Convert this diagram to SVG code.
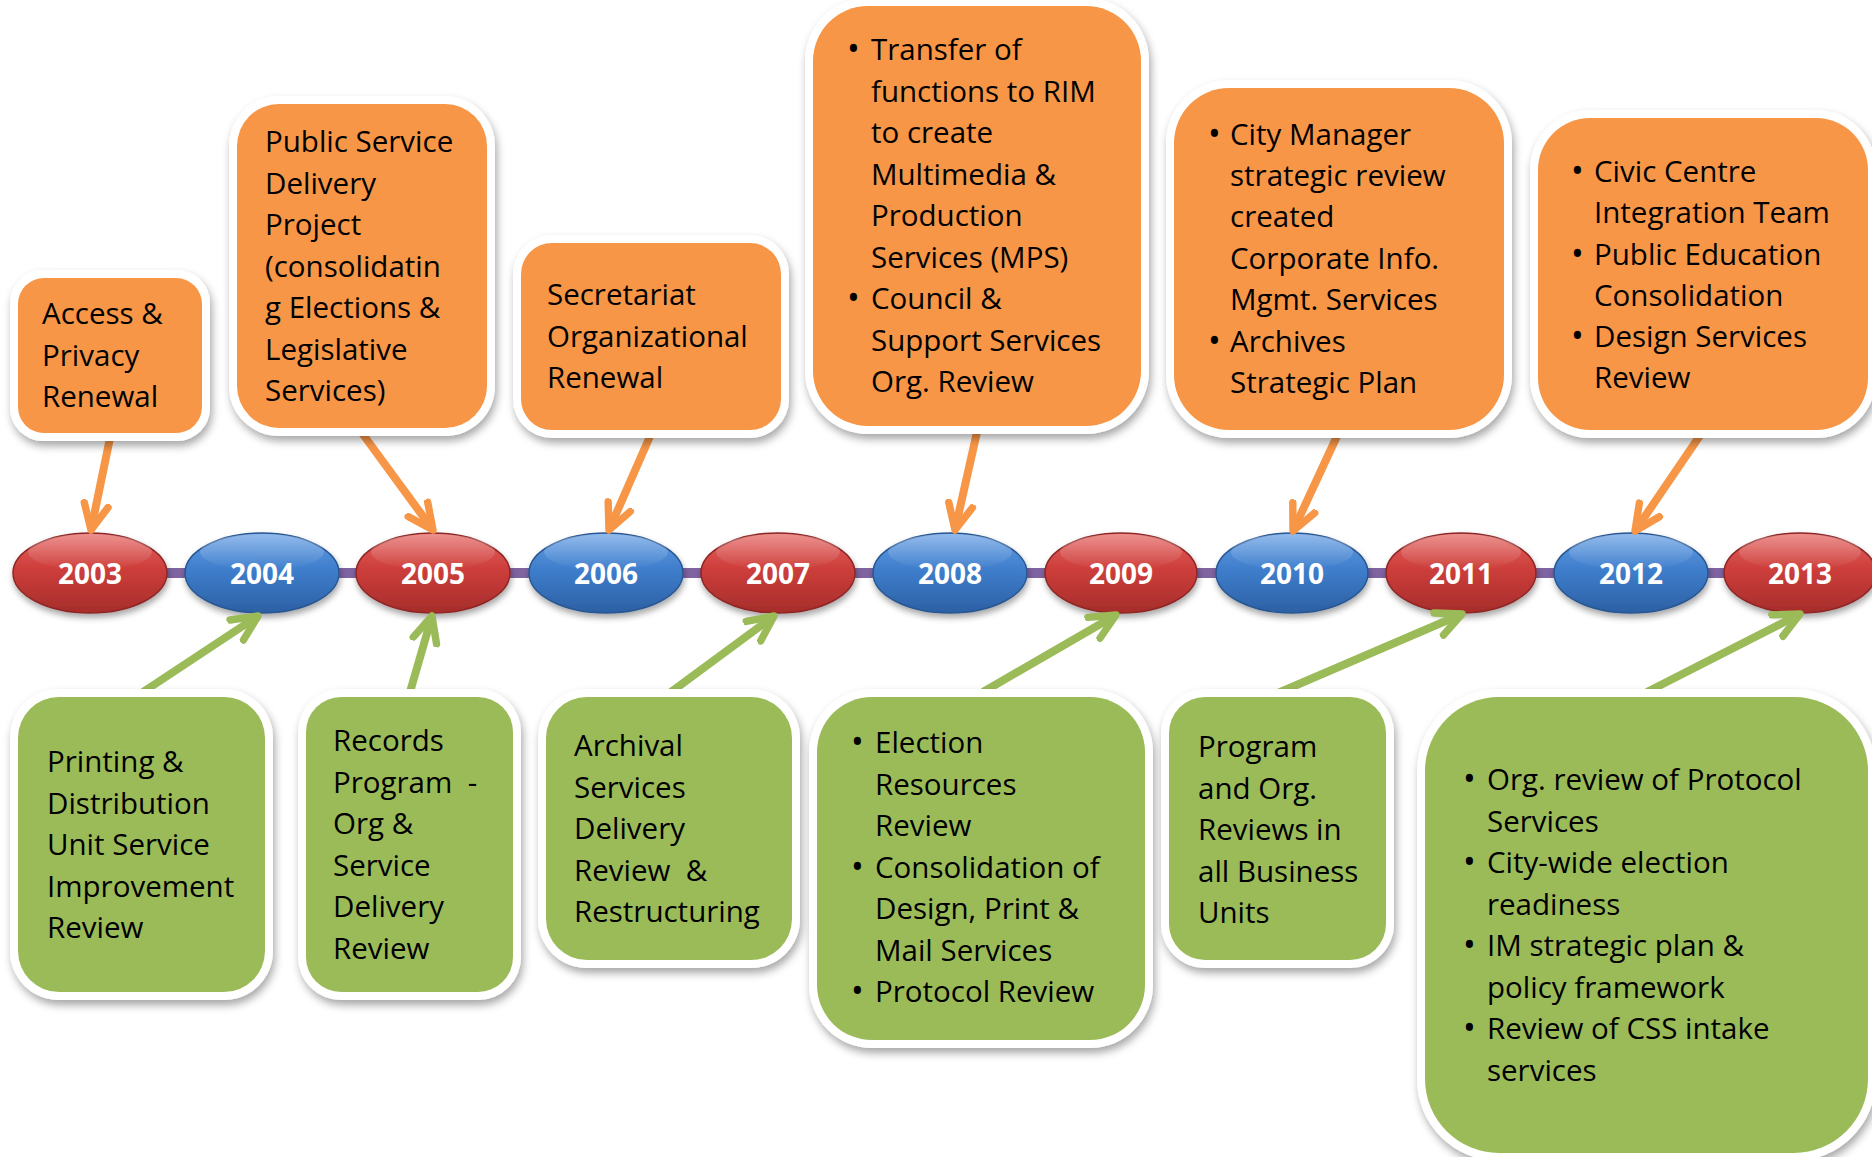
<svg xmlns="http://www.w3.org/2000/svg" width="1872" height="1157" viewBox="0 0 1872 1157">
  <defs>
    <filter id="boxShadow" x="-10%" y="-10%" width="125%" height="130%">
      <feDropShadow dx="2" dy="5" stdDeviation="4" flood-color="#000" flood-opacity="0.35"/>
    </filter>
    <filter id="ovalShadow" x="-10%" y="-20%" width="125%" height="150%">
      <feDropShadow dx="1" dy="4" stdDeviation="3" flood-color="#000" flood-opacity="0.35"/>
    </filter>
    <linearGradient id="redFill" x1="0" y1="0" x2="0" y2="1">
      <stop offset="0" stop-color="#E4625E"/>
      <stop offset="0.45" stop-color="#CD3E3B"/>
      <stop offset="1" stop-color="#A62D2B"/>
    </linearGradient>
    <linearGradient id="blueFill" x1="0" y1="0" x2="0" y2="1">
      <stop offset="0" stop-color="#639DE4"/>
      <stop offset="0.45" stop-color="#3F7ECC"/>
      <stop offset="1" stop-color="#2C60A4"/>
    </linearGradient>
    <linearGradient id="gloss" x1="0" y1="0" x2="0" y2="1">
      <stop offset="0" stop-color="#fff" stop-opacity="0.3"/>
      <stop offset="1" stop-color="#fff" stop-opacity="0"/>
    </linearGradient>
    <marker id="headOrange" viewBox="0 0 10 10" refX="8.6" refY="5" markerWidth="4.2" markerHeight="4.2" markerUnits="strokeWidth" orient="auto">
      <path d="M1,1.4 L8.6,5 L1,8.6" fill="none" stroke="#F79646" stroke-width="2.2" stroke-linecap="round" stroke-linejoin="round"/>
    </marker>
    <marker id="headGreen" viewBox="0 0 10 10" refX="8.6" refY="5" markerWidth="4.2" markerHeight="4.2" markerUnits="strokeWidth" orient="auto">
      <path d="M1,1.4 L8.6,5 L1,8.6" fill="none" stroke="#9BBB59" stroke-width="2.2" stroke-linecap="round" stroke-linejoin="round"/>
    </marker>
  </defs>
  <style>
    .frame { fill: #ffffff; filter: url(#boxShadow); }
    .orange { fill: #F79646; }
    .green { fill: #9BBB59; }
    .label { font-family: "Open Sans", "Liberation Sans", sans-serif; font-size: 29.5px; fill: #000000; }
    .bullet { font-family: "Open Sans", "Liberation Sans", sans-serif; font-size: 34px; fill: #000000; }
    .year { font-family: "Open Sans", "Liberation Sans", sans-serif; font-weight: 700; font-size: 28px; fill: #ffffff; text-anchor: middle; }
    .oval-red { fill: url(#redFill); stroke: #8E2725; stroke-width: 1.5; filter: url(#ovalShadow); }
    .oval-blue { fill: url(#blueFill); stroke: #295792; stroke-width: 1.5; filter: url(#ovalShadow); }
    .shine { fill: url(#gloss); }
    .link-o { stroke: #F79646; stroke-width: 8; fill: none; marker-end: url(#headOrange); }
    .link-g { stroke: #9BBB59; stroke-width: 8; fill: none; marker-end: url(#headGreen); }
    .axis { stroke: #8064A2; stroke-width: 10; }
  </style>

  <rect width="1872" height="1157" fill="#ffffff"/>

  <!-- timeline axis -->
  <line class="axis" x1="90" y1="573" x2="1800" y2="573"/>

  <!-- year markers -->
  <g id="y2003"><ellipse class="oval-red" cx="90" cy="573" rx="77" ry="40"/><ellipse class="shine" cx="90" cy="552" rx="62" ry="18"/><text class="year" x="90" y="584">2003</text></g>
  <g id="y2004"><ellipse class="oval-blue" cx="262" cy="573" rx="77" ry="40"/><ellipse class="shine" cx="262" cy="552" rx="62" ry="18"/><text class="year" x="262" y="584">2004</text></g>
  <g id="y2005"><ellipse class="oval-red" cx="433" cy="573" rx="77" ry="40"/><ellipse class="shine" cx="433" cy="552" rx="62" ry="18"/><text class="year" x="433" y="584">2005</text></g>
  <g id="y2006"><ellipse class="oval-blue" cx="606" cy="573" rx="77" ry="40"/><ellipse class="shine" cx="606" cy="552" rx="62" ry="18"/><text class="year" x="606" y="584">2006</text></g>
  <g id="y2007"><ellipse class="oval-red" cx="778" cy="573" rx="77" ry="40"/><ellipse class="shine" cx="778" cy="552" rx="62" ry="18"/><text class="year" x="778" y="584">2007</text></g>
  <g id="y2008"><ellipse class="oval-blue" cx="950" cy="573" rx="77" ry="40"/><ellipse class="shine" cx="950" cy="552" rx="62" ry="18"/><text class="year" x="950" y="584">2008</text></g>
  <g id="y2009"><ellipse class="oval-red" cx="1121" cy="573" rx="76" ry="40"/><ellipse class="shine" cx="1121" cy="552" rx="61" ry="18"/><text class="year" x="1121" y="584">2009</text></g>
  <g id="y2010"><ellipse class="oval-blue" cx="1292" cy="573" rx="76" ry="40"/><ellipse class="shine" cx="1292" cy="552" rx="61" ry="18"/><text class="year" x="1292" y="584">2010</text></g>
  <g id="y2011"><ellipse class="oval-red" cx="1461" cy="573" rx="75" ry="40"/><ellipse class="shine" cx="1461" cy="552" rx="60" ry="18"/><text class="year" x="1461" y="584">2011</text></g>
  <g id="y2012"><ellipse class="oval-blue" cx="1631" cy="573" rx="77" ry="40"/><ellipse class="shine" cx="1631" cy="552" rx="62" ry="18"/><text class="year" x="1631" y="584">2012</text></g>
  <g id="y2013"><ellipse class="oval-red" cx="1800" cy="573" rx="76" ry="40"/><ellipse class="shine" cx="1800" cy="552" rx="61" ry="18"/><text class="year" x="1800" y="584">2013</text></g>

  <!-- connectors -->
  <g id="connectors">
    <line class="link-o" x1="110" y1="438" x2="91" y2="530"/>
    <line class="link-o" x1="362" y1="433" x2="433" y2="530"/>
    <line class="link-o" x1="651" y1="434" x2="609" y2="530"/>
    <line class="link-o" x1="977" y1="432" x2="955" y2="530"/>
    <line class="link-o" x1="1338" y1="434" x2="1293" y2="531"/>
    <line class="link-o" x1="1701" y1="434" x2="1635" y2="531"/>
    <line class="link-g" x1="143" y1="692" x2="258" y2="616"/>
    <line class="link-g" x1="410" y1="692" x2="432" y2="616"/>
    <line class="link-g" x1="671" y1="692" x2="774" y2="616"/>
    <line class="link-g" x1="983" y1="692" x2="1116" y2="615"/>
    <line class="link-g" x1="1278" y1="693" x2="1462" y2="614"/>
    <line class="link-g" x1="1647" y1="692" x2="1800" y2="614"/>
  </g>

  <!-- upper event boxes -->
  <g id="box2003">
    <rect class="frame" x="10" y="270" width="200" height="171" rx="33"/>
    <rect class="orange" x="18" y="278" width="184" height="155" rx="26"/>
    <text class="label"><tspan x="42" y="324">Access &amp;</tspan><tspan x="42" y="366">Privacy</tspan><tspan x="42" y="407">Renewal</tspan></text>
  </g>
  <g id="box2005">
    <rect class="frame" x="229" y="96" width="266" height="340" rx="50"/>
    <rect class="orange" x="237" y="104" width="250" height="324" rx="42"/>
    <text class="label"><tspan x="265" y="152">Public Service</tspan><tspan x="265" y="193.5">Delivery</tspan><tspan x="265" y="235">Project</tspan><tspan x="265" y="276.5">(consolidatin</tspan><tspan x="265" y="318">g Elections &amp;</tspan><tspan x="265" y="359.5">Legislative</tspan><tspan x="265" y="401">Services)</tspan></text>
  </g>
  <g id="box2006">
    <rect class="frame" x="513" y="235" width="276" height="203" rx="39"/>
    <rect class="orange" x="521" y="243" width="260" height="187" rx="31"/>
    <text class="label"><tspan x="547" y="305">Secretariat</tspan><tspan x="547" y="347">Organizational</tspan><tspan x="547" y="388">Renewal</tspan></text>
  </g>
  <g id="box2008">
    <rect class="frame" x="805" y="-2" width="344" height="436" rx="63"/>
    <rect class="orange" x="813" y="6" width="328" height="420" rx="55"/>
    <text class="bullet"><tspan x="847" y="61">•</tspan><tspan x="847" y="310">•</tspan></text>
    <text class="label"><tspan x="871" y="60">Transfer of</tspan><tspan x="871" y="101.5">functions to RIM</tspan><tspan x="871" y="143">to create</tspan><tspan x="871" y="184.5">Multimedia &amp;</tspan><tspan x="871" y="226">Production</tspan><tspan x="871" y="267.5">Services (MPS)</tspan><tspan x="871" y="309">Council &amp;</tspan><tspan x="871" y="350.5">Support Services</tspan><tspan x="871" y="392">Org. Review</tspan></text>
  </g>
  <g id="box2010">
    <rect class="frame" x="1166" y="80" width="346" height="358" rx="63"/>
    <rect class="orange" x="1174" y="88" width="330" height="342" rx="55"/>
    <text class="bullet"><tspan x="1208" y="146">•</tspan><tspan x="1208" y="352.5">•</tspan></text>
    <text class="label"><tspan x="1230" y="145">City Manager</tspan><tspan x="1230" y="186">strategic review</tspan><tspan x="1230" y="227">created</tspan><tspan x="1230" y="268.5">Corporate Info.</tspan><tspan x="1230" y="310">Mgmt. Services</tspan><tspan x="1230" y="351.5">Archives</tspan><tspan x="1230" y="393">Strategic Plan</tspan></text>
  </g>
  <g id="box2012">
    <rect class="frame" x="1530" y="110" width="346" height="328" rx="60"/>
    <rect class="orange" x="1538" y="118" width="330" height="312" rx="52"/>
    <text class="bullet"><tspan x="1571" y="183">•</tspan><tspan x="1571" y="265.5">•</tspan><tspan x="1571" y="348">•</tspan></text>
    <text class="label"><tspan x="1594" y="182">Civic Centre</tspan><tspan x="1594" y="223">Integration Team</tspan><tspan x="1594" y="264.5">Public Education</tspan><tspan x="1594" y="305.5">Consolidation</tspan><tspan x="1594" y="347">Design Services</tspan><tspan x="1594" y="388">Review</tspan></text>
  </g>

  <!-- lower event boxes -->
  <g id="box2004">
    <rect class="frame" x="10" y="689" width="263" height="311" rx="49"/>
    <rect class="green" x="18" y="697" width="247" height="295" rx="41"/>
    <text class="label"><tspan x="47" y="772">Printing &amp;</tspan><tspan x="47" y="813.5">Distribution</tspan><tspan x="47" y="855">Unit Service</tspan><tspan x="47" y="896.5">Improvement</tspan><tspan x="47" y="938">Review</tspan></text>
  </g>
  <g id="box2005b">
    <rect class="frame" x="298" y="689" width="223" height="311" rx="43"/>
    <rect class="green" x="306" y="697" width="207" height="295" rx="35"/>
    <text class="label" xml:space="preserve"><tspan x="333" y="751">Records</tspan><tspan x="333" y="792.5">Program  -</tspan><tspan x="333" y="834">Org &amp;</tspan><tspan x="333" y="875.5">Service</tspan><tspan x="333" y="917">Delivery</tspan><tspan x="333" y="958.5">Review</tspan></text>
  </g>
  <g id="box2007">
    <rect class="frame" x="538" y="689" width="262" height="279" rx="49"/>
    <rect class="green" x="546" y="697" width="246" height="263" rx="41"/>
    <text class="label" xml:space="preserve"><tspan x="574" y="756">Archival</tspan><tspan x="574" y="797.5">Services</tspan><tspan x="574" y="839">Delivery</tspan><tspan x="574" y="880.5">Review  &amp;</tspan><tspan x="574" y="922">Restructuring</tspan></text>
  </g>
  <g id="box2009">
    <rect class="frame" x="809" y="689" width="344" height="359" rx="63"/>
    <rect class="green" x="817" y="697" width="328" height="343" rx="55"/>
    <text class="bullet"><tspan x="851" y="754">•</tspan><tspan x="851" y="878.5">•</tspan><tspan x="851" y="1003">•</tspan></text>
    <text class="label"><tspan x="875" y="753">Election</tspan><tspan x="875" y="794.5">Resources</tspan><tspan x="875" y="836">Review</tspan><tspan x="875" y="877.5">Consolidation of</tspan><tspan x="875" y="919">Design, Print &amp;</tspan><tspan x="875" y="960.5">Mail Services</tspan><tspan x="875" y="1002">Protocol Review</tspan></text>
  </g>
  <g id="box2011">
    <rect class="frame" x="1161" y="689" width="233" height="279" rx="44"/>
    <rect class="green" x="1169" y="697" width="217" height="263" rx="36"/>
    <text class="label"><tspan x="1198" y="757">Program</tspan><tspan x="1198" y="798.5">and Org.</tspan><tspan x="1198" y="840">Reviews in</tspan><tspan x="1198" y="881.5">all Business</tspan><tspan x="1198" y="923">Units</tspan></text>
  </g>
  <g id="box2013">
    <rect class="frame" x="1417" y="689" width="459" height="472" rx="82"/>
    <rect class="green" x="1425" y="697" width="443" height="456" rx="74"/>
    <text class="bullet"><tspan x="1463" y="791">•</tspan><tspan x="1463" y="874">•</tspan><tspan x="1463" y="957">•</tspan><tspan x="1463" y="1040">•</tspan></text>
    <text class="label"><tspan x="1487" y="790">Org. review of Protocol</tspan><tspan x="1487" y="831.5">Services</tspan><tspan x="1487" y="873">City-wide election</tspan><tspan x="1487" y="914.5">readiness</tspan><tspan x="1487" y="956">IM strategic plan &amp;</tspan><tspan x="1487" y="997.5">policy framework</tspan><tspan x="1487" y="1039">Review of CSS intake</tspan><tspan x="1487" y="1080.5">services</tspan></text>
  </g>
</svg>
